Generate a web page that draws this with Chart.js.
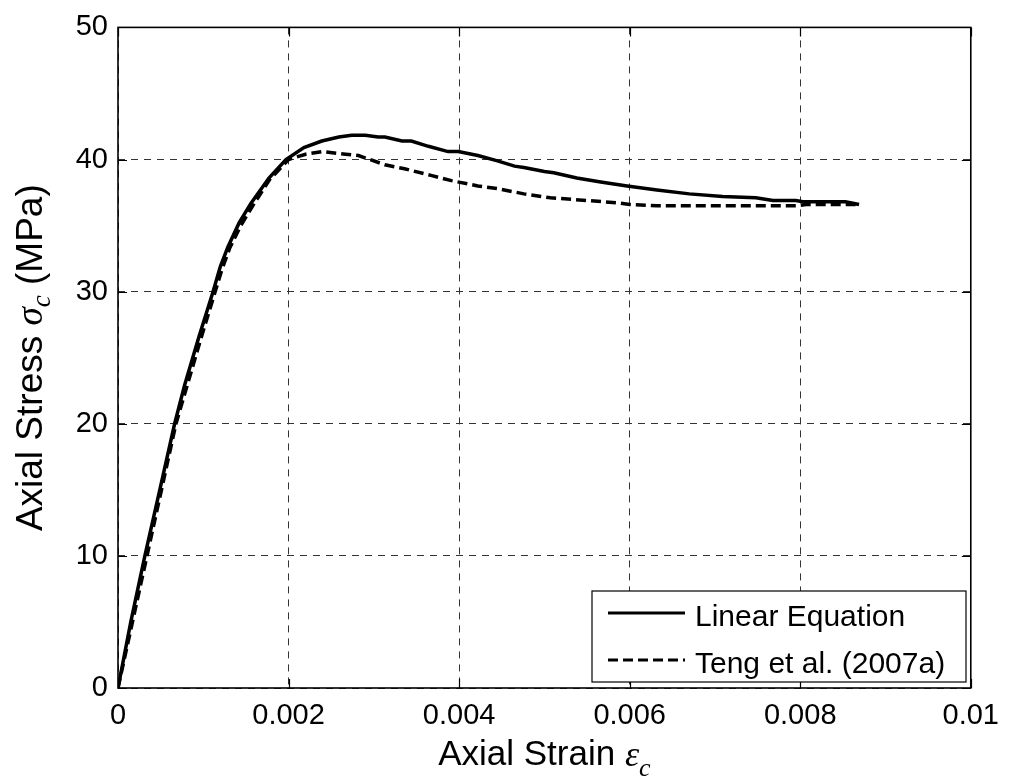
<!DOCTYPE html>
<html>
<head>
<meta charset="utf-8">
<script src="https://cdn.jsdelivr.net/npm/chart.js@4"></script>
<style>
  html, body { margin: 0; padding: 0; background: #fff; }
  canvas { display: block; }
</style>
</head>
<body>
<canvas id="myChart" width="1010" height="783"></canvas>
<script>
// Data
const strainLinear = [0, 0.00015, 0.000315, 0.00049, 0.000664, 0.00078, 0.00095, 0.00111, 0.0012, 0.00129, 0.00142, 0.00156, 0.00177, 0.00197, 0.00218, 0.00239, 0.00259, 0.00274, 0.0029, 0.00305, 0.00313, 0.00333, 0.00344, 0.00364, 0.00387, 0.00399, 0.00422, 0.00445, 0.00465, 0.00476, 0.005, 0.00511, 0.00538, 0.00566, 0.00597, 0.00632, 0.0067, 0.00709, 0.00748, 0.00768, 0.00795, 0.00803, 0.00853, 0.00869];
const stressLinear = [0, 5, 10, 15, 20, 22.9, 26.6, 29.9, 31.9, 33.4, 35.2, 36.7, 38.6, 40, 40.9, 41.4, 41.7, 41.84, 41.84, 41.7, 41.7, 41.4, 41.4, 41.0, 40.6, 40.6, 40.3, 39.9, 39.5, 39.4, 39.1, 39.0, 38.6, 38.3, 38.0, 37.7, 37.4, 37.2, 37.1, 36.9, 36.9, 36.8, 36.8, 36.6];

const strainTeng = [0, 0.00017, 0.00034, 0.00051, 0.00068, 0.00097, 0.00113, 0.00122, 0.00131, 0.00144, 0.00158, 0.00178, 0.002, 0.0022, 0.00239, 0.00267, 0.00282, 0.00313, 0.00336, 0.00367, 0.00391, 0.00422, 0.00445, 0.00476, 0.00507, 0.0055, 0.00589, 0.006, 0.00632, 0.00709, 0.00795, 0.00807, 0.00869];
const stressTeng = [0, 5, 10, 15, 20, 26.4, 29.8, 31.7, 33.3, 35.0, 36.5, 38.5, 40.0, 40.4, 40.6, 40.4, 40.3, 39.6, 39.3, 38.8, 38.4, 38.0, 37.8, 37.4, 37.1, 36.9, 36.7, 36.6, 36.5, 36.5, 36.5, 36.6, 36.6];

const seriesNames = ['Linear Equation', 'Teng et al. (2007a)'];

const xTickValues = [0, 0.002, 0.004, 0.006, 0.008, 0.01];
const xTickLabels = ['0', '0.002', '0.004', '0.006', '0.008', '0.01'];
const yTickValues = [0, 10, 20, 30, 40, 50];
const yTickLabels = ['0', '10', '20', '30', '40', '50'];

const sans = 'Liberation Sans, Arial, sans-serif';
const serif = 'Liberation Serif, Times New Roman, serif';

const toPoints = (xs, ys) => xs.map((x, i) => ({ x: x, y: ys[i] }));

// Box, inner ticks, legend and axis titles
const framePlugin = {
    id: 'frame',
    afterDraw(chart) {
        const ctx = chart.ctx;
        const a = chart.chartArea;
        const xs = chart.scales.x;
        const ys = chart.scales.y;
        ctx.save();
        ctx.strokeStyle = '#000';
        ctx.lineWidth = 1.2;

        // inner tick marks on all four sides
        ctx.beginPath();
        xTickValues.forEach(v => {
            const px = Math.round(xs.getPixelForValue(v)) + 0.5;
            ctx.moveTo(px, a.bottom); ctx.lineTo(px, a.bottom - 9);
            ctx.moveTo(px, a.top); ctx.lineTo(px, a.top + 9);
        });
        yTickValues.forEach(v => {
            const py = Math.round(ys.getPixelForValue(v)) + 0.5;
            ctx.moveTo(a.left, py); ctx.lineTo(a.left + 9, py);
            ctx.moveTo(a.right, py); ctx.lineTo(a.right - 9, py);
        });
        ctx.stroke();

        // axes box
        ctx.lineWidth = 1.6;
        ctx.strokeRect(a.left, a.top, a.right - a.left, a.bottom - a.top);

        // legend
        const lx = 592, ly = 591, lw = 374, lh = 91;
        ctx.fillStyle = '#fff';
        ctx.fillRect(lx, ly, lw, lh);
        ctx.lineWidth = 1.2;
        ctx.strokeRect(lx, ly, lw, lh);
        const rows = [613, 660];
        chart.data.datasets.forEach((ds, i) => {
            ctx.beginPath();
            ctx.lineWidth = 3;
            ctx.setLineDash(ds.borderDash || []);
            ctx.moveTo(608, rows[i]);
            ctx.lineTo(685, rows[i]);
            ctx.stroke();
            ctx.setLineDash([]);
            ctx.fillStyle = '#000';
            ctx.font = '30px ' + sans;
            ctx.textBaseline = 'alphabetic';
            ctx.textAlign = 'left';
            ctx.fillText(ds.label, 695, rows[i] + 13);
        });

        // x axis title
        ctx.fillStyle = '#000';
        ctx.textBaseline = 'alphabetic';
        ctx.textAlign = 'left';
        const xMain = 'Axial Strain ';
        ctx.font = '35px ' + sans;
        const w1 = ctx.measureText(xMain).width;
        ctx.font = 'italic 36px ' + serif;
        const w2 = ctx.measureText('\u03B5').width;
        ctx.font = 'italic 26px ' + serif;
        const w3 = ctx.measureText('c').width;
        let sx = (a.left + a.right) / 2 - (w1 + w2 + w3) / 2;
        ctx.font = '35px ' + sans;
        ctx.fillText(xMain, sx, 765);
        ctx.font = 'italic 36px ' + serif;
        ctx.fillText('\u03B5', sx + w1, 766);
        ctx.font = 'italic 26px ' + serif;
        ctx.fillText('c', sx + w1 + w2, 776);

        // y axis title
        ctx.translate(42, (a.top + a.bottom) / 2);
        ctx.rotate(-Math.PI / 2);
        const yMain = 'Axial Stress ';
        const yEnd = ' (MPa)';
        ctx.font = '37px ' + sans;
        const v1 = ctx.measureText(yMain).width;
        const v4 = ctx.measureText(yEnd).width;
        ctx.font = 'italic 37px ' + serif;
        const v2 = ctx.measureText('\u03C3').width;
        ctx.font = 'italic 27px ' + serif;
        const v3 = ctx.measureText('c').width;
        let sy = -(v1 + v2 + v3 + v4) / 2;
        ctx.font = '37px ' + sans;
        ctx.fillText(yMain, sy, 0);
        ctx.font = 'italic 37px ' + serif;
        ctx.fillText('\u03C3', sy + v1, 0);
        ctx.font = 'italic 27px ' + serif;
        ctx.fillText('c', sy + v1 + v2, 8);
        ctx.font = '37px ' + sans;
        ctx.fillText(yEnd, sy + v1 + v2 + v3, 0);

        ctx.restore();
    }
};

const ctx = document.getElementById('myChart').getContext('2d');
new Chart(ctx, {
    type: 'line',
    data: {
        datasets: [{
            label: seriesNames[0],
            data: toPoints(strainLinear, stressLinear),
            borderColor: '#000',
            borderWidth: 3.5,
            pointRadius: 0,
            tension: 0,
            fill: false
        }, {
            label: seriesNames[1],
            data: toPoints(strainTeng, stressTeng),
            borderColor: '#000',
            borderWidth: 3.5,
            borderDash: [10, 5],
            pointRadius: 0,
            tension: 0,
            fill: false
        }]
    },
    options: {
        responsive: false,
        animation: false,
        devicePixelRatio: 1,
        layout: { padding: { top: 22, right: 34, left: 0, bottom: 0 } },
        plugins: {
            legend: { display: false },
            tooltip: { enabled: false }
        },
        scales: {
            x: {
                type: 'linear',
                min: 0,
                max: 0.01,
                afterFit: s => { s.height = 95; },
                afterBuildTicks: s => { s.ticks = xTickValues.map(v => ({ value: v })); },
                ticks: {
                    callback: (v, i) => xTickLabels[i],
                    font: { size: 29, family: sans },
                    color: '#000',
                    padding: 11,
                    maxRotation: 0,
                    autoSkip: false
                },
                grid: { color: '#333', lineWidth: 1, drawTicks: false },
                border: { display: false, dash: [7, 6] }
            },
            y: {
                type: 'linear',
                min: 0,
                max: 50,
                afterFit: s => { s.width = 118; },
                afterBuildTicks: s => { s.ticks = yTickValues.map(v => ({ value: v })); },
                ticks: {
                    callback: (v, i) => yTickLabels[i],
                    font: { size: 29, family: sans },
                    color: '#000',
                    padding: 10,
                    autoSkip: false
                },
                grid: { color: '#333', lineWidth: 1, drawTicks: false },
                border: { display: false, dash: [7, 6] }
            }
        }
    },
    plugins: [framePlugin]
});
</script>
</body>
</html>
